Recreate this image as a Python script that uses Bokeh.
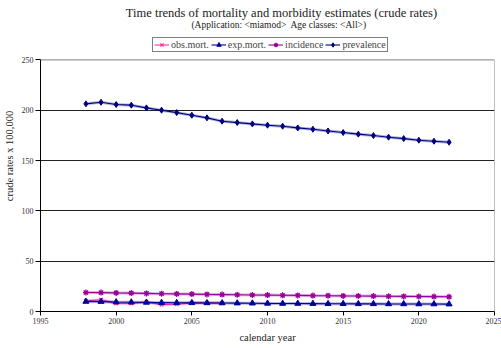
from bokeh.plotting import figure
from bokeh.models import Legend, LegendItem, FixedTicker, Range1d, Label, Span
from bokeh.embed import file_html
from bokeh.resources import INLINE

years = list(range(1998, 2023))
obs_years = list(range(1998, 2008))
obs_mort = [10.6, 11.6, 8.0, 8.0, 9.6, 6.8, 7.2, 8.6, 8.6, 8.4]
exp_mort = [9.9, 9.8, 9.4, 9.2, 9.0, 8.8, 8.7, 8.6, 8.5, 8.4, 8.3, 8.2, 8.0,
            7.9, 7.9, 7.8, 7.7, 7.7, 7.6, 7.6, 7.5, 7.5, 7.4, 7.4, 7.3]
incidence = [18.9, 18.8, 18.5, 18.3, 18.0, 17.7, 17.5, 17.3, 17.0, 16.8, 16.6,
             16.4, 16.3, 16.1, 16.0, 15.8, 15.7, 15.5, 15.4, 15.3, 15.1, 15.0,
             14.9, 14.8, 14.6]
prevalence = [206.3, 207.9, 205.6, 205.0, 202.3, 200.0, 197.6, 195.0, 192.4,
              189.1, 187.7, 186.4, 185.1, 184.1, 182.4, 181.1, 179.4, 177.8,
              176.2, 174.8, 173.2, 171.8, 170.2, 169.2, 168.2]
x_ticks = [1995, 2000, 2005, 2010, 2015, 2020, 2025]
y_ticks = [0, 50, 100, 150, 200, 250]

FONT = "Liberation Serif"
Y_TOP = 309          # headroom above the value axis for titles and legend
FH = 311             # expected frame height in px

x0, x1 = x_ticks[0], x_ticks[-1]
y0, y1 = y_ticks[0], y_ticks[-1]

p = figure(width=501, height=348, output_backend="svg", toolbar_location=None,
           title=None, x_range=Range1d(x0, x1), y_range=Range1d(y0, Y_TOP),
           min_border_left=40, min_border_right=7, min_border_top=0,
           min_border_bottom=37, background_fill_color="white")

p.outline_line_color = None
p.xgrid.visible = False
p.ygrid.ticker = FixedTicker(ticks=y_ticks[1:-1])
p.ygrid.grid_line_color = "#222222"
p.ygrid.grid_line_width = 1

for ax in (p.xaxis[0], p.yaxis[0]):
    ax.axis_line_color = "black"
    ax.major_tick_line_color = "black"
    ax.minor_tick_line_color = None
    ax.major_tick_in = 0
    ax.major_tick_out = 4
    ax.major_label_text_font = FONT
    ax.major_label_text_font_size = "8px"
    ax.major_label_text_color = "#333333"
    ax.axis_label_text_font = FONT
    ax.axis_label_text_font_size = "10.5px"
    ax.axis_label_text_font_style = "normal"
    ax.axis_label_text_color = "#222222"

p.xaxis[0].major_label_standoff = 2
p.xaxis[0].axis_label_standoff = 5
p.yaxis[0].major_label_standoff = 2
p.yaxis[0].axis_label_standoff = 4
p.yaxis[0].major_tick_out = 5

p.xaxis[0].ticker = FixedTicker(ticks=x_ticks)
p.yaxis[0].ticker = FixedTicker(ticks=y_ticks)
p.yaxis[0].bounds = (y0, y1)
p.xaxis[0].axis_label = "calendar year"
p.yaxis[0].axis_label = "crude rates x 100,000"

# plot-area border (top and right), grey as in the reference
p.add_layout(Span(location=y1, dimension="width", line_color="#808080", line_width=1))
p.segment(x0=[x1], y0=[y0], x1=[x1], y1=[y1], line_color="#808080", line_width=1)

c_obs = "#FF3399"
c_exp = "#000099"
c_inc = "#990099"
c_prev = "#000080"


def series(xs, ys, color, marker, size):
    p.line(xs, ys, line_color=color, line_width=3, line_alpha=0.3)
    ln = p.line(xs, ys, line_color=color, line_width=1.1)
    if marker in ("x", "asterisk"):
        mk = p.scatter(xs, ys, marker=marker, size=size, line_color=color, line_width=1.3)
    else:
        mk = p.scatter(xs, ys, marker=marker, size=size, line_color=color, fill_color=color)
    return ln, mk


l1, m1 = series(obs_years, obs_mort, c_obs, "x", 5)
l2, m2 = series(years, exp_mort, c_exp, "triangle", 6)
l3, m3 = series(years, incidence, c_inc, "asterisk", 6)
l4, m4 = series(years, prevalence, c_prev, "diamond", 6)

legend = Legend(items=[
    LegendItem(label="obs.mort.", renderers=[l1, m1]),
    LegendItem(label="exp.mort.", renderers=[l2, m2]),
    LegendItem(label="incidence", renderers=[l3, m3]),
    LegendItem(label="prevalence", renderers=[l4, m4]),
], orientation="horizontal", location=(112, FH - 52))
legend.label_text_font = FONT
legend.label_text_font_size = "10px"
legend.label_height = 11
legend.label_standoff = 2
legend.glyph_width = 15
legend.glyph_height = 11
legend.spacing = 2
legend.padding = 1
legend.margin = 0
legend.border_line_color = "black"
legend.border_line_width = 1
legend.background_fill_color = "white"
p.add_layout(legend, "center")

p.add_layout(Label(x=241, y=FH - 12, x_units="screen", y_units="screen",
                   text="Time trends of mortality and morbidity estimates (crude rates)",
                   text_font=FONT, text_font_size="12.5px", text_color="#222222",
                   text_align="center", text_baseline="middle"))
p.add_layout(Label(x=238.5, y=FH - 24, x_units="screen", y_units="screen",
                   text="(Application: <miamod>\u00a0 Age classes: <All>)",
                   text_font=FONT, text_font_size="9.5px", text_color="#222222",
                   text_align="center", text_baseline="middle"))

open("out.html", "w").write(file_html(p, INLINE))
